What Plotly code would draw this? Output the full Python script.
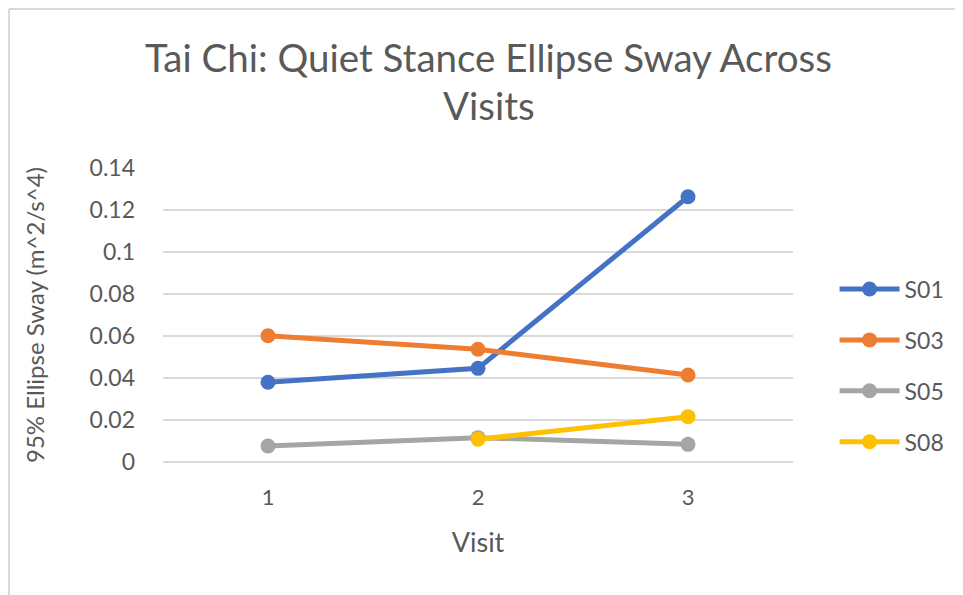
import plotly.graph_objects as go

visits = [1, 2, 3]
series_names = ["S01", "S03", "S05", "S08"]
s01 = [0.0380, 0.0446, 0.1263]
s03 = [0.0601, 0.0537, 0.0414]
s05 = [0.0076, 0.0116, 0.0084]
s08 = [None, 0.0108, 0.0216]
colors = ["#4472C4", "#ED7D31", "#A5A5A5", "#FFC000"]
y_ticks = [0, 0.02, 0.04, 0.06, 0.08, 0.1, 0.12, 0.14]
y_tick_labels = ["0", "0.02", "0.04", "0.06", "0.08", "0.1", "0.12", "0.14"]

FONT = "Lato, 'Open Sans', sans-serif"
TXT = "#595959"

fig = go.Figure()
for name, vals, col in zip(series_names, [s01, s03, s05, s08], colors):
    fig.add_trace(go.Scatter(
        x=visits, y=vals, name=name, mode="lines+markers",
        line=dict(color=col, width=5),
        marker=dict(color=col, size=15),
        legendgroup=name,
        connectgaps=False,
    ))

fig.update_layout(
    width=955, height=587,
    margin=dict(l=155, r=170, t=160, b=133),
    paper_bgcolor="white", plot_bgcolor="white",
    font=dict(family=FONT, color=TXT, size=22),
    showlegend=True,
    legend=dict(
        x=1.066, y=0.328, xanchor="left", yanchor="middle",
        traceorder="grouped", tracegroupgap=18,
        font=dict(size=23, color=TXT, family=FONT),
        itemwidth=60,
        bgcolor="rgba(0,0,0,0)",
    ),
    xaxis=dict(
        range=[0.5, 3.5], tickvals=visits, ticktext=[str(v) for v in visits],
        showgrid=False, zeroline=False, showline=False,
        ticks="", tickfont=dict(size=22, color=TXT),
        ticklabelstandoff=20,
        title=dict(text="Visit", font=dict(size=27, color=TXT), standoff=24),
    ),
    yaxis=dict(
        range=[0, 0.14], tickvals=y_ticks, ticktext=y_tick_labels,
        showgrid=True, gridcolor="#D9D9D9", gridwidth=1.5,
        zeroline=True, zerolinecolor="#D9D9D9", zerolinewidth=1.5,
        showline=False, ticks="", tickfont=dict(size=23, color=TXT),
        ticklabelstandoff=27,
        title=dict(text="95% Ellipse Sway (m^2/s^4)", font=dict(size=24, color=TXT), standoff=38),
    ),
)

# chart title (two lines as in the reference)
fig.add_annotation(text="Tai Chi: Quiet Stance Ellipse Sway Across", xref="paper", yref="paper",
                   x=0.517, y=1.378, showarrow=False, xanchor="center", yanchor="middle",
                   font=dict(size=38.5, color=TXT, family=FONT))
fig.add_annotation(text="Visits", xref="paper", yref="paper",
                   x=0.517, y=1.214, showarrow=False, xanchor="center", yanchor="middle",
                   font=dict(size=38.5, color=TXT, family=FONT))

# light frame lines (top and left), as in the reference
fig.add_shape(type="line", xref="paper", yref="paper", x0=-0.2444, x1=1.3, y0=1.5408, y1=1.5408,
              line=dict(color="#D9D9D9", width=2))
fig.add_shape(type="line", xref="paper", yref="paper", x0=-0.2444, x1=-0.2444, y0=1.5408, y1=-0.5,
              line=dict(color="#D9D9D9", width=2))

fig.write_html("out.html")
